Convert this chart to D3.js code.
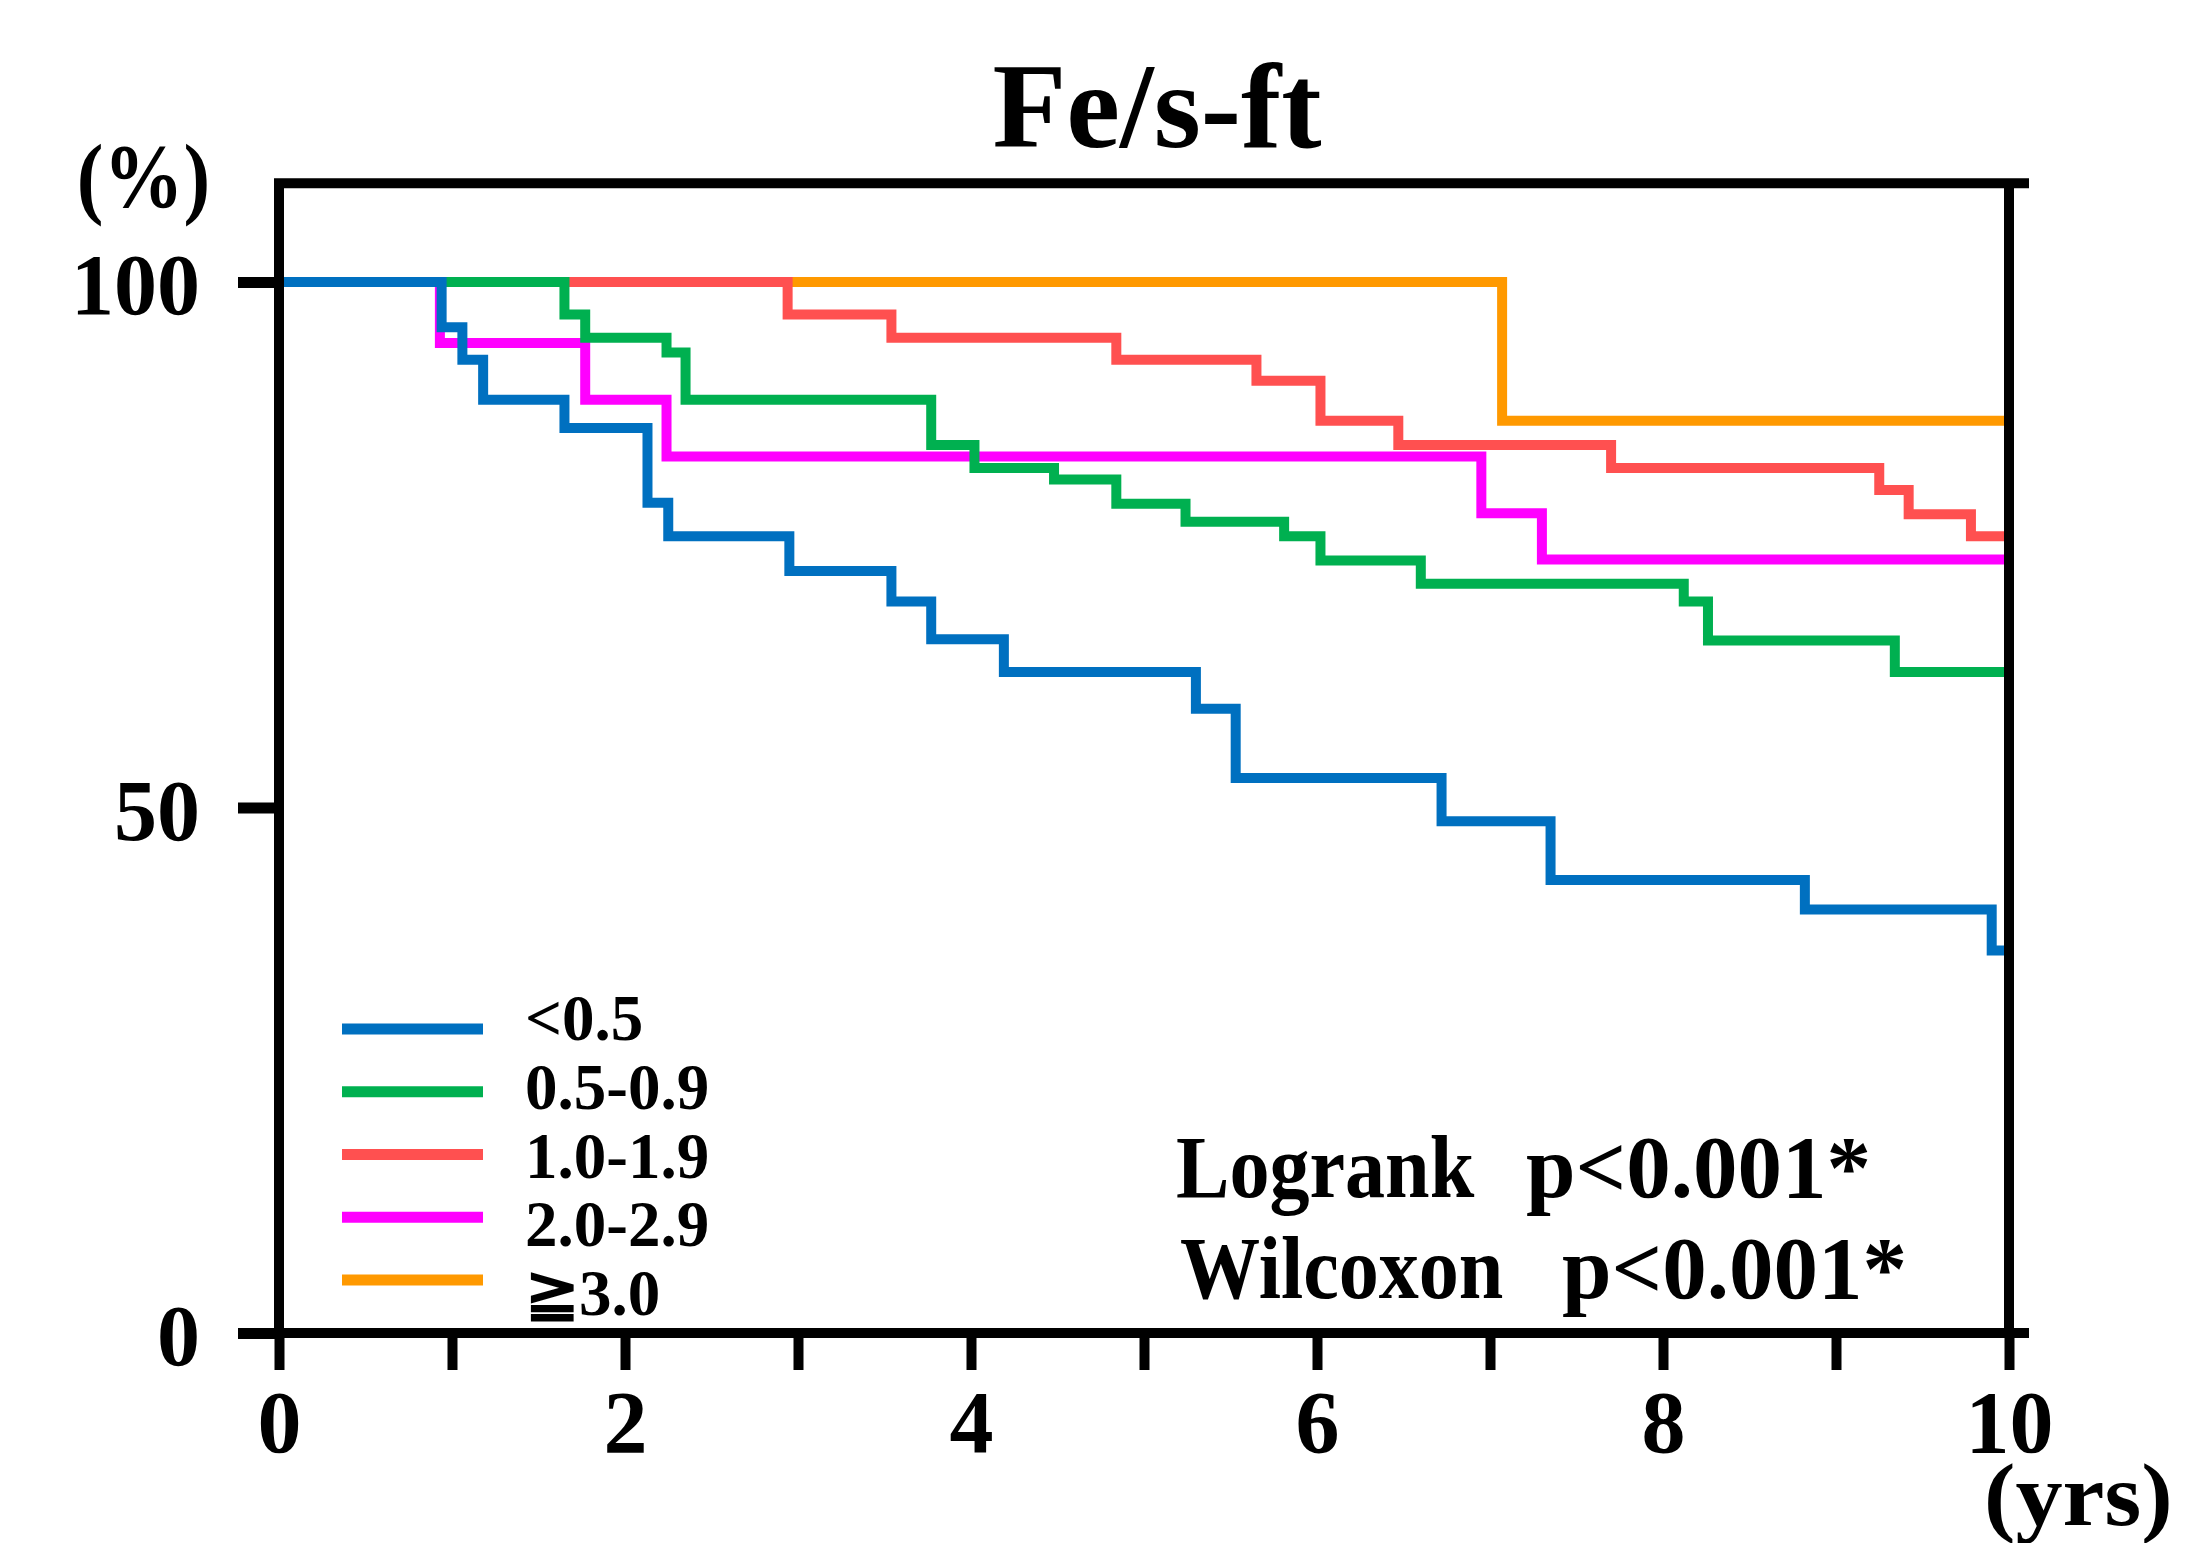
<!DOCTYPE html>
<html>
<head>
<meta charset="utf-8">
<script src="https://cdn.jsdelivr.net/npm/d3@7"></script>
<style>
  html, body { margin: 0; padding: 0; background: #fff; }
  svg text { font-family: "Liberation Serif", "Times New Roman", serif; font-weight: bold; fill: #000; }
</style>
</head>
<body>
<div id="chart"></div>
<script>
// Fe/s-ft groups, survival (%) over time (years), step after each time
const groupLabels = ["<0.5", "0.5-0.9", "1.0-1.9", "2.0-2.9", "\u22673.0"];
const groupColors = ["#0070c0", "#00b050", "#ff5050", "#ff00ff", "#ff9900"];

const lt05Times = [0, 0.94, 1.06, 1.18, 1.65, 2.13, 2.25, 2.95, 3.54, 3.77, 4.19, 5.30, 5.53, 6.72, 7.35, 8.82, 9.90];
const lt05Surv  = [100, 95.7, 92.6, 88.8, 86.1, 79.0, 75.8, 72.5, 69.6, 66.0, 62.9, 59.4, 52.8, 48.7, 43.1, 40.3, 36.4];

const g05Times = [0, 1.65, 1.77, 2.24, 2.35, 3.77, 4.02, 4.48, 4.84, 5.24, 5.81, 6.02, 6.60, 8.12, 8.26, 9.34];
const g05Surv  = [100, 96.9, 94.7, 93.3, 88.8, 84.5, 82.3, 81.2, 78.9, 77.2, 75.8, 73.5, 71.3, 69.6, 65.9, 62.9];

const g10Times = [0, 2.94, 3.54, 4.84, 5.65, 6.02, 6.47, 7.70, 9.25, 9.42, 9.78];
const g10Surv  = [100, 96.9, 94.7, 92.6, 90.6, 86.8, 84.5, 82.3, 80.2, 77.9, 75.8];

const g20Times = [0, 0.93, 1.77, 2.24, 6.95, 7.30];
const g20Surv  = [100, 94.2, 88.8, 83.4, 78.0, 73.6];

const g30Times = [0, 7.07];
const g30Surv  = [100, 86.8];

const endTime = 10;
const xTicks = d3.range(0, 11);
const yTicks = [0, 50, 100];
const yFrameTop = 109.4;

const titleText = "Fe/s-ft";
const statNames = ["Logrank", "Wilcoxon"];
const statValues = ["p<0.001*", "p<0.001*"];

const W = 2185, H = 1543;

const svg = d3.select("#chart").append("svg")
  .attr("width", W).attr("height", H)
  .style("display", "block");

svg.append("rect").attr("width", W).attr("height", H).attr("fill", "#fff");

const x = d3.scaleLinear().domain([0, 10]).range([279, 2009]);
const y = d3.scaleLinear().domain([0, 100]).range([1333, 282]);

function addText(parent, str, tx, ty, size, anchor, sx) {
  return parent.append("text")
    .attr("transform", `translate(${tx},${ty}) scale(${sx || 1},1)`)
    .attr("text-anchor", anchor || "start")
    .attr("font-size", size)
    .text(str);
}

// title and axis captions
addText(svg, titleText, 1157, 147, 121, "middle");
addText(svg, "(%)", 143.5, 207, 92, "middle", 0.87);
addText(svg, "(yrs)", 1984, 1525, 89, "start", 1.06);

// survival curves, orange at the bottom, blue on top
const series = [
  { times: lt05Times, surv: lt05Surv },
  { times: g05Times, surv: g05Surv },
  { times: g10Times, surv: g10Surv },
  { times: g20Times, surv: g20Surv },
  { times: g30Times, surv: g30Surv }
].map((s, i) => ({ ...s, color: groupColors[i], label: groupLabels[i] }));

const line = d3.line()
  .x(d => x(d[0]))
  .y(d => y(d[1]))
  .curve(d3.curveStepAfter);

svg.append("g")
  .selectAll("path")
  .data(series.slice().reverse())
  .join("path")
  .attr("fill", "none")
  .attr("stroke", d => d.color)
  .attr("stroke-width", 10)
  .attr("stroke-linejoin", "miter")
  .attr("d", d => {
    const pts = d.times.map((t, i) => [t, d.surv[i]]);
    pts.push([endTime, d.surv[d.surv.length - 1]]);
    return line(pts);
  });

// frame
const frame = d3.path();
frame.moveTo(x(0) - 3, y(yFrameTop)); frame.lineTo(x(10) + 20, y(yFrameTop));
frame.moveTo(x(0), y(yFrameTop) - 5); frame.lineTo(x(0), y(0) + 5);
frame.moveTo(x(10), y(yFrameTop) - 5); frame.lineTo(x(10), y(0) + 5);
frame.moveTo(x(0) - 41, y(0)); frame.lineTo(x(10) + 20, y(0));
svg.append("path")
  .attr("d", frame.toString())
  .attr("fill", "none")
  .attr("stroke", "#000")
  .attr("stroke-width", 10);

// y axis
svg.append("g")
  .attr("transform", `translate(${x(0)},0)`)
  .call(d3.axisLeft(y).tickValues(yTicks).tickSize(41).tickPadding(38).tickFormat(d3.format("d")))
  .attr("font-family", null)
  .attr("font-size", 86)
  .call(g => g.select(".domain").remove())
  .call(g => g.selectAll(".tick line").attr("stroke", "#000").attr("stroke-width", 11))
  .call(g => g.selectAll(".tick text").attr("dy", "0.37em"));

// x axis
svg.append("g")
  .attr("transform", `translate(0,${y(0)})`)
  .call(d3.axisBottom(x).tickValues(xTicks).tickSize(37).tickPadding(20)
    .tickFormat(d => d % 2 === 0 ? d : ""))
  .attr("font-family", null)
  .attr("font-size", 88)
  .call(g => g.select(".domain").remove())
  .call(g => g.selectAll(".tick line").attr("stroke", "#000").attr("stroke-width", 10));

// legend
const legend = svg.append("g");
series.forEach((s, i) => {
  const ly = 1029 + i * 62.75;
  legend.append("line")
    .attr("x1", 342).attr("x2", 483)
    .attr("y1", ly).attr("y2", ly)
    .attr("stroke", s.color)
    .attr("stroke-width", 11);
  addText(legend, s.label, 525, 1040 + i * 68.75, 65, "start");
});

// test statistics
const stats = svg.append("g");
addText(stats, statNames[0], 1176, 1197, 89, "start", 0.9);
addText(stats, statValues[0], 1526, 1197, 89, "start");
addText(stats, statNames[1], 1180, 1298, 89, "start", 0.9);
addText(stats, statValues[1], 1562, 1298, 89, "start");
</script>
</body>
</html>
